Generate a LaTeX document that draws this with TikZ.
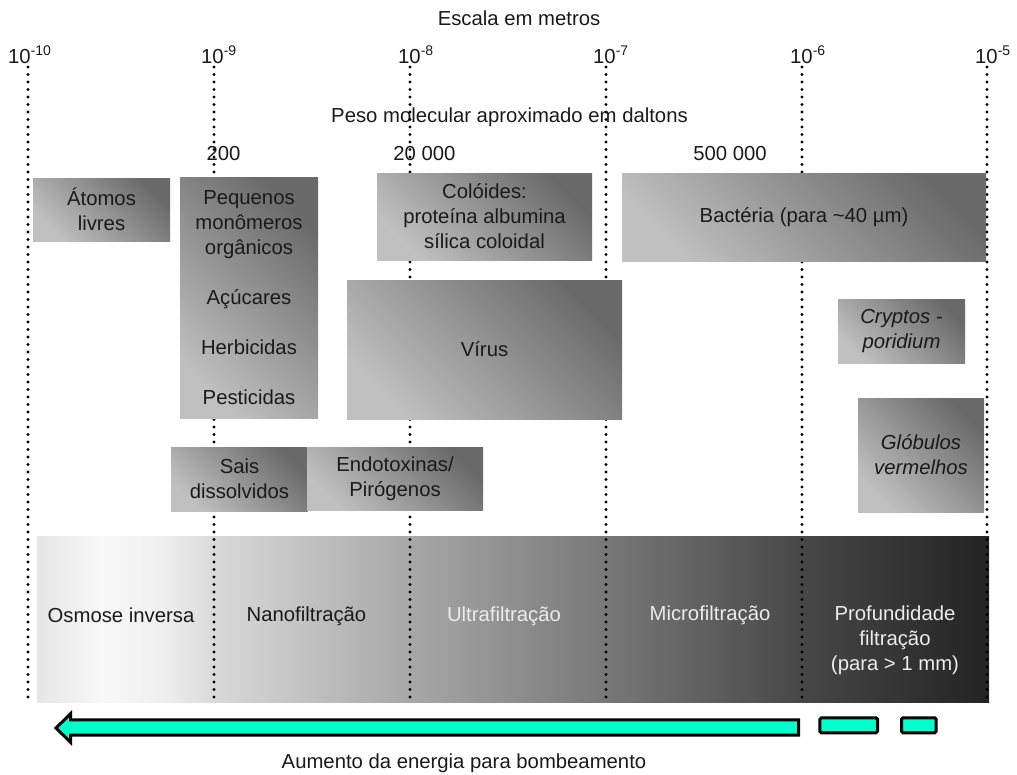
\documentclass[tikz,border=0pt]{standalone}
\usepackage{fontspec}
\setmainfont{Liberation Sans}
\definecolor{txt}{HTML}{1A1A1A}
\definecolor{boxlight}{HTML}{C0C0C0}
\definecolor{boxdark}{HTML}{6A6A6A}
\definecolor{lighttxt}{HTML}{ECECEC}
\definecolor{pumpfill}{RGB}{0,255,204}
\definecolor{b0}{HTML}{E6E6E6}
\definecolor{b1}{HTML}{F8F8F8}
\definecolor{b1a}{HTML}{F0F0F0}
\definecolor{b2}{HTML}{D9D9D9}
\definecolor{b3}{HTML}{A7A7A7}
\definecolor{b4}{HTML}{787878}
\definecolor{b5}{HTML}{474747}
\definecolor{b6}{HTML}{232323}
\begin{document}
\begin{tikzpicture}[x=1pt,y=-1pt,
  every node/.style={inner sep=0pt, font=\fontsize{20.3}{25}\selectfont, text=txt},
  gbox/.style={top color=boxdark, bottom color=boxlight, shading angle=-45, align=center},
  scaleline/.style={line width=3.2pt, dash pattern=on 0pt off 7.5pt, line cap=round, draw=black},
  bandtext/.style={align=center},
  pump/.style={line width=3pt, draw=black, fill=pumpfill, line join=miter},
  sup/.style={anchor=base west}]
\useasboundingbox (0,0) rectangle (1017,774);

% filtration band, white to near black
\fill[left color=b0, right color=b1] (37,536) rectangle (101,702);
\fill[left color=b1, right color=b1a] (100,536) rectangle (161,702);
\fill[left color=b1a, right color=b2] (160,536) rectangle (215,702);
\fill[left color=b2, right color=b3] (214,536) rectangle (411,702);
\fill[left color=b3, right color=b4] (410,536) rectangle (607,702);
\fill[left color=b4, right color=b5] (606,536) rectangle (803,702);
\fill[left color=b5, right color=b6] (802,536) rectangle (989,702);

% titles and molecular weights
\node[anchor=base] (escala) at (519,25.5) {Escala em metros};
\node[anchor=base] (peso) at (509.5,122) {Peso molecular aproximado em daltons};
\node[anchor=base] (mw1) at (223.5,160) {200};
\node[anchor=base] (mw2) at (424.5,160) {20 000};
\node[anchor=base] (mw3) at (730,160) {500 000};

% scale exponents
\newcommand{\expo}[1]{10\raisebox{8pt}{\fontsize{14}{14}\selectfont -#1}}
\node[sup] (e10) at (8,63) {\expo{10}};
\node[sup] (e9) at (201,63) {\expo{9}};
\node[sup] (e8) at (398,63) {\expo{8}};
\node[sup] (e7) at (593,63) {\expo{7}};
\node[sup] (e6) at (790,63) {\expo{6}};
\node[sup] (e5) at (975,63) {\expo{5}};

% dotted scale lines
\foreach \x in {28,214,410,606,802,987}
  \draw[scaleline] (\x,67) -- (\x,700);

% particle boxes
\node[gbox, minimum width=137, minimum height=63] (atomos) at (101.5,209.5) {Átomos\\livres};
\node[gbox, minimum width=138, minimum height=241] (pequenos) at (249,297.5)
  {Pequenos\\monômeros\\orgânicos\\[25pt]Açúcares\\[25pt]Herbicidas\\[25pt]Pesticidas};
\node[gbox, minimum width=215, minimum height=87] (coloides) at (484.5,216.5)
  {Colóides:\\proteína albumina\\sílica coloidal};
\node[gbox, minimum width=275, minimum height=139] (virus) at (484.5,349.5) {Vírus};
\node[gbox, minimum width=137, minimum height=64] (sais) at (239.5,479) {Sais\\dissolvidos};
\node[gbox, minimum width=176, minimum height=63] (endo) at (395,478.5) {Endotoxinas/\\Pirógenos};
\node[gbox, minimum width=364, minimum height=88] (bacteria) at (804,217)
  {Bactéria (para \textasciitilde40 µm)};
\node[gbox, minimum width=127, minimum height=64, font=\fontsize{20.3}{25}\selectfont\itshape] (crypto) at (901.5,331)
  {Cryptos -\\poridium};
\node[gbox, minimum width=126, minimum height=114, font=\fontsize{20.3}{25}\selectfont\itshape] (globulos) at (921,455)
  {Glóbulos\\vermelhos};

% process names
\node[anchor=base] (osmose) at (121,622.5) {Osmose inversa};
\node[anchor=base] (nano) at (306.5,621.5) {Nanofiltração};
\node[anchor=base, text=lighttxt] (ultra) at (504,621) {Ultrafiltração};
\node[anchor=base, text=lighttxt] (micro) at (710,620.5) {Microfiltração};
\node[bandtext, text=lighttxt] (prof) at (895,640.5) {Profundidade\\filtração\\(para > 1 mm)};

% pumping energy arrow
\draw[pump] (56,728) -- (70.5,713.8) -- (70.5,719.8) -- (798.5,719.8) -- (798.5,735.2)
  -- (70.5,735.2) -- (70.5,742.2) -- cycle;
\draw[pump, rounded corners=1.5pt] (819.8,717.8) rectangle (877.5,732.8);
\draw[pump, rounded corners=1.5pt] (901.5,717.8) rectangle (936.2,732.8);
\node[anchor=base] (energia) at (464,768) {Aumento da energia para bombeamento};
\end{tikzpicture}
\end{document}
